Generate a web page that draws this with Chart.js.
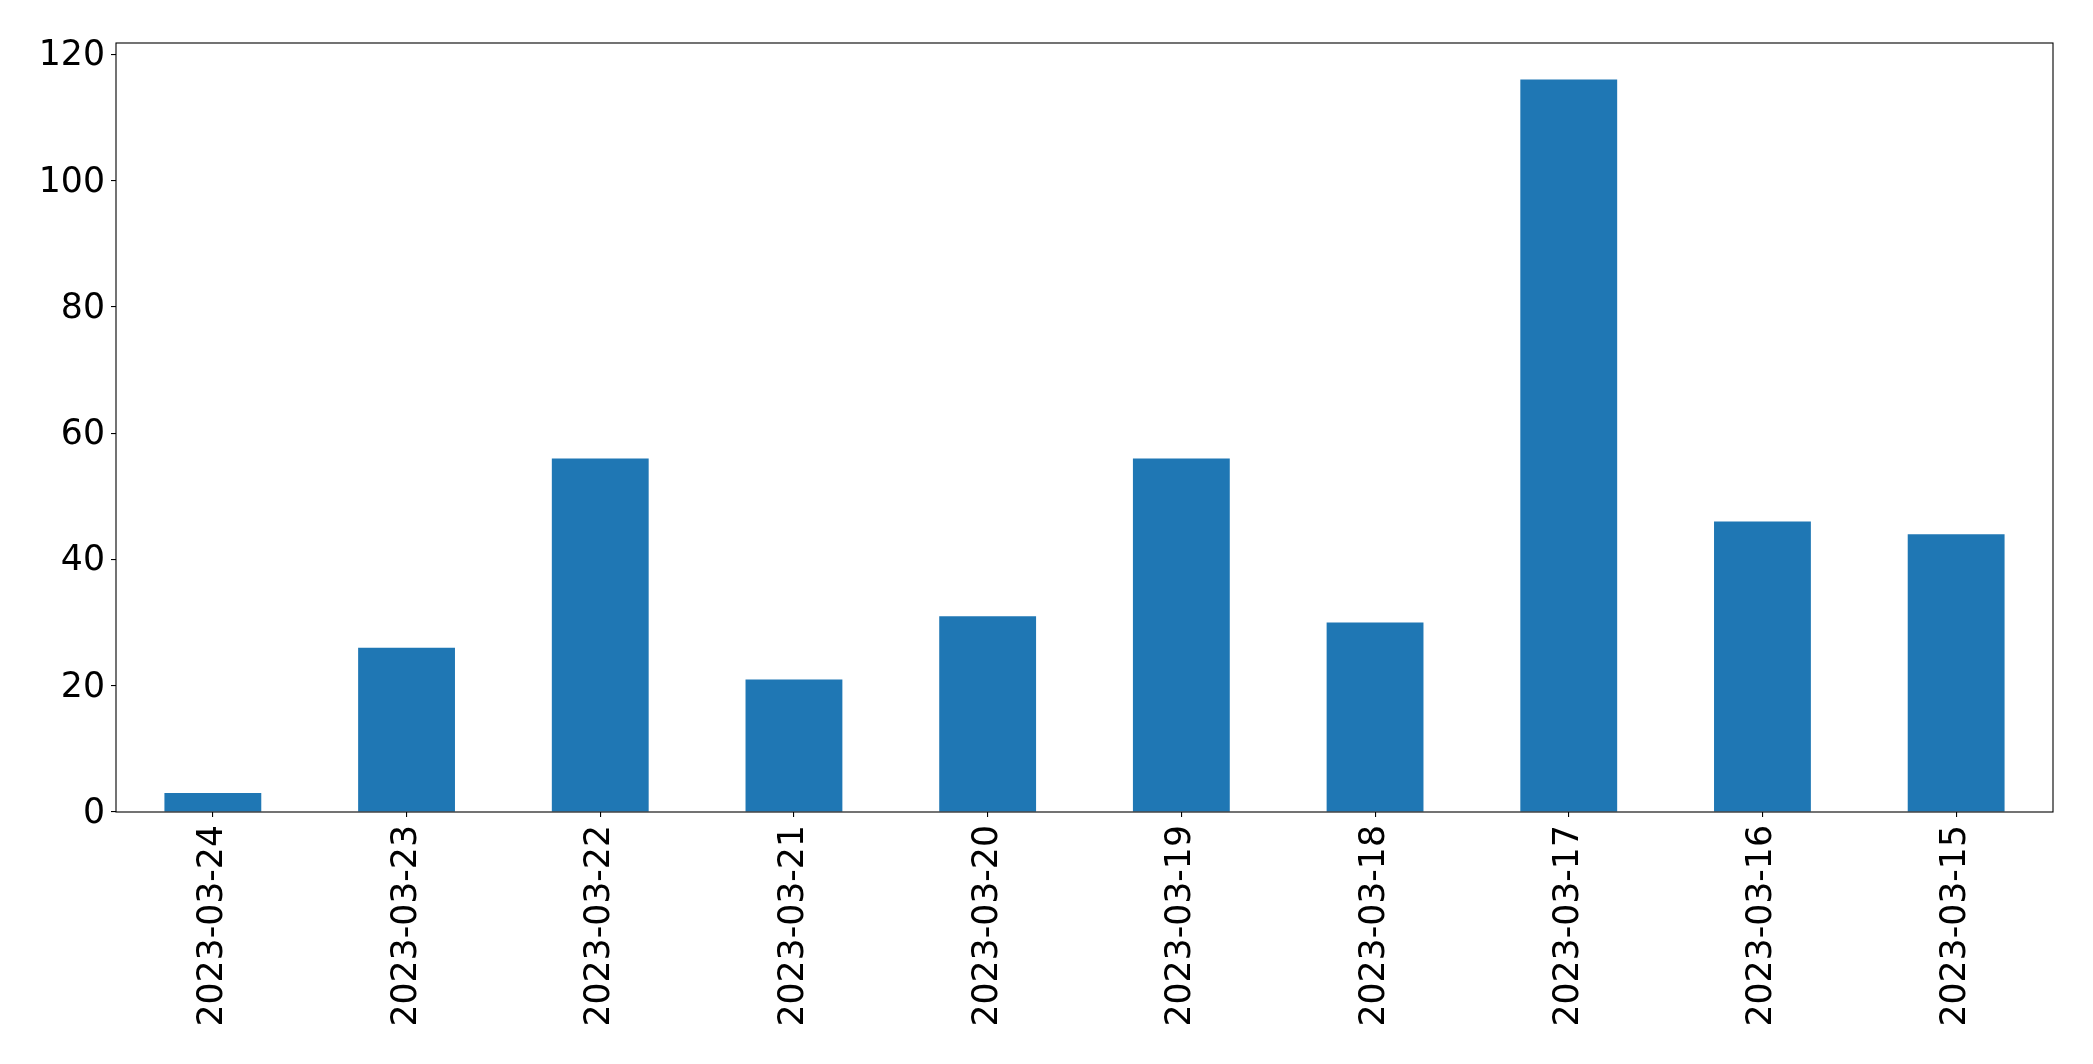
<!DOCTYPE html>
<html>
<head>
<meta charset="utf-8">
<script src="https://cdn.jsdelivr.net/npm/chart.js@4.4.0/dist/chart.umd.min.js"></script>
<style>
    body { margin: 0; background: #fff; }
    #wrap { width: 2093px; height: 1064px; }
</style>
</head>
<body>
<div id="wrap"><canvas id="myChart" width="2093" height="1064"></canvas></div>
<script>
// data
const dates = ['2023-03-24', '2023-03-23', '2023-03-22', '2023-03-21', '2023-03-20',
    '2023-03-19', '2023-03-18', '2023-03-17', '2023-03-16', '2023-03-15'];
const counts = [3, 26, 56, 21, 31, 56, 30, 116, 46, 44];
const yTicks = [0, 20, 40, 60, 80, 100, 120];

// frame around the plot area, like matplotlib spines
const frame = {
    id: 'frame',
    afterDraw(chart) {
        const a = chart.chartArea;
        const ctx = chart.ctx;
        ctx.save();
        ctx.strokeStyle = '#000';
        ctx.lineWidth = 1.1;
        ctx.strokeRect(a.left, a.top, a.right - a.left, a.bottom - a.top);
        ctx.restore();
    }
};

const font = { family: 'DejaVu Sans', size: 34.7 };

const config = {
    type: 'bar',
    data: {
        labels: dates,
        datasets: [{
            data: counts,
            backgroundColor: '#1f77b4',
            borderWidth: 0,
            barPercentage: 0.5,
            categoryPercentage: 1.0
        }]
    },
    options: {
        responsive: false,
        animation: false,
        layout: { padding: { top: 43, right: 40, left: 0, bottom: 0 } },
        plugins: { legend: { display: false }, tooltip: { enabled: false } },
        scales: {
            x: {
                offset: true,
                grid: { offset: false, drawOnChartArea: false, drawTicks: true, tickLength: 5, color: '#000', lineWidth: 1.1 },
                border: { display: false },
                ticks: { color: '#000', font, minRotation: 90, maxRotation: 90, padding: 8, autoSkip: false },
                afterFit(scale) { scale.height = 252; }
            },
            y: {
                min: 0,
                max: Math.max(...counts) * 1.05,
                grid: { drawOnChartArea: false, drawTicks: true, tickLength: 5, color: '#000', lineWidth: 1.1 },
                border: { display: false },
                afterBuildTicks(scale) { scale.ticks = yTicks.map(v => ({ value: v })); },
                ticks: { color: '#000', font, padding: 6, labelOffset: 2, includeBounds: false },
                afterFit(scale) { scale.width = 116; }
            }
        }
    },
    plugins: [frame]
};

const myChart = new Chart(document.getElementById('myChart'), config);
</script>
</body>
</html>
